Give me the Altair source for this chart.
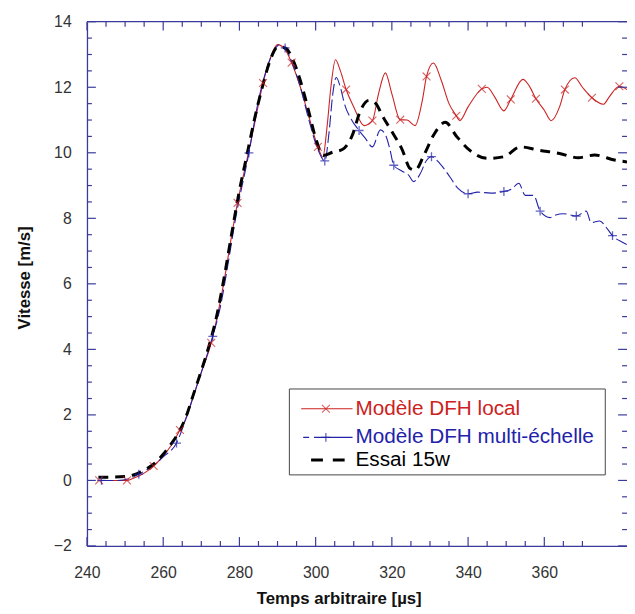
import altair as alt
import pandas as pd

# ---------------- data ----------------
red_x = [243.2, 246, 250.5, 252, 254, 256, 257.5, 260, 262, 264.4, 266, 268, 270, 272.6, 274, 276, 278, 279.5,
         282, 284, 286.2, 288, 290, 292, 293.7, 296, 298, 300.6, 301.9, 303, 304, 305.2, 306.5, 308, 310, 312.7,
         314.9, 316.5, 318.3, 320, 322.2, 324, 326.1, 328, 329.1, 330.9, 333, 335, 336.9, 337.8, 340, 343.6,
         345, 347, 349.4, 351.2, 354.4, 356, 357.8, 360, 361.8, 364, 365.4, 368, 370, 372.5, 375.5, 377,
         379.7, 381.7]
red_y = [0, 0, 0, 0.06, 0.16, 0.3, 0.44, 0.75, 1.05, 1.54, 1.9, 2.6, 3.3, 4.2, 4.9, 6.1, 7.5, 8.47,
         9.8, 10.9, 12.13, 12.85, 13.3, 13.15, 12.75, 12.0, 11.2, 10.18, 9.87, 10.8, 12.0, 12.84, 12.5, 11.93, 11.4, 10.83,
         10.98, 11.8, 12.44, 11.8, 11.01, 11.0, 10.83, 11.6, 12.33, 12.74, 12.2, 11.5, 11.13, 10.98, 11.4, 11.95,
         12.0, 11.7, 11.28, 11.63, 12.24, 12.05, 11.65, 11.3, 10.98, 11.4, 11.93, 12.29, 12.0, 11.68, 11.48, 11.7,
         12.03, 11.93]
red_mark_x = [243.2, 250.5, 257.5, 264.4, 272.6, 279.5, 286.2, 293.7, 300.6, 308, 314.9, 322.2, 329.1, 336.9,
              343.6, 351.2, 357.8, 365.4, 372.5, 379.7]
red_mark_y = [0, 0, 0.44, 1.54, 4.2, 8.47, 12.13, 12.75, 10.18, 11.93, 10.98, 11.01, 12.33, 11.13,
              11.95, 11.63, 11.65, 11.93, 11.68, 12.03]

blue_x = [243.8, 248, 251, 253.6, 256, 258, 260, 263.5, 266, 268, 270, 273, 275, 277, 279, 282.5, 285, 287,
          289, 290.5, 292, 294, 296, 298, 300.6, 302.4, 303.5, 304.5, 305.4, 306.5, 307.6, 309.3, 311.4, 313,
          314.9, 317, 318.5, 319.5, 320.5, 322.5, 324.4, 325.7, 327.4, 329, 330.4, 332.6, 335.2, 337.3, 340,
          342.5, 346, 349.4, 351.5, 353.3, 355, 357.2, 358.9, 361.5, 363, 365, 368.4, 371, 372.3, 374.5, 376.6,
          377.9, 380.5, 381.7]
blue_y = [0, 0, 0.05, 0.19, 0.35, 0.5, 0.72, 1.14, 1.9, 2.6, 3.3, 4.4, 5.3, 6.6, 8.0, 10.0, 11.6, 12.5,
          13.1, 13.3, 13.2, 12.7, 12.0, 11.1, 10.1, 9.75, 10.6, 11.8, 12.3, 12.0, 11.48, 11.03, 10.68, 10.45,
          10.18, 10.7, 10.5, 10.1, 9.62, 9.45, 9.32, 9.12, 9.35, 9.75, 9.88, 9.67, 9.27, 8.92, 8.75,
          8.8, 8.77, 8.82, 8.9, 9.07, 8.7, 8.7, 8.22, 8.02, 8.1, 8.14, 8.07, 8.22, 7.87, 7.92, 7.67,
          7.47, 7.27, 7.2]
blue_mark_x = [243.8, 253.6, 263.5, 273, 282.5, 292, 302.4, 311.4, 320.5, 330.4, 340, 349.4, 358.9, 368.4, 377.9]
blue_mark_y = [0, 0.19, 1.14, 4.4, 10.0, 13.2, 9.75, 10.68, 9.62, 9.88, 8.75, 8.82, 8.22, 8.07, 7.47]

black_x = [243, 246, 250, 253, 256, 258, 260, 262, 264, 266, 268, 270, 272, 274, 276, 278, 280, 282, 284,
           286, 288, 290, 292, 294, 296, 298, 300, 302, 304.5, 307, 309.5, 311.8, 314, 315.8, 317.5, 320,
           322.7, 324.8, 326.1, 328.5, 331, 334, 337, 340.4, 345.1, 349.4, 353.7, 358.5, 364, 368.9, 373.2,
           378.4, 381.7]
black_y = [0.1, 0.1, 0.12, 0.2, 0.38, 0.55, 0.8, 1.1, 1.45, 1.95, 2.65, 3.35, 4.1, 5.0, 6.2, 7.55, 8.85, 9.95, 11.05,
           12.0, 12.8, 13.22, 13.2, 12.85, 12.2, 11.35, 10.45, 9.92, 10.02, 10.1, 10.5, 11.3, 11.6, 11.5, 11.13, 10.65,
           10.1, 9.52, 9.47, 9.95, 10.55, 10.93, 10.5, 10.08, 9.83, 9.88, 10.18, 10.08, 9.98, 9.85, 9.93,
           9.78, 9.72]

series_names = ["Modèle DFH local", "Modèle DFH multi-échelle", "Essai 15w"]

x_label_values = [240, 260, 280, 300, 320, 340, 360]
x_major_ticks = [240, 260, 280, 300, 320, 340, 360]
x_minor_ticks = [245, 250, 255, 265, 270, 275, 285, 290, 295, 305, 310, 315, 325, 330, 335, 345, 350, 355, 365, 370]
y_major_ticks = [-2, 0, 2, 4, 6, 8, 10, 12, 14]
y_minor_ticks = [-1.5, -1, -0.5, 0.5, 1, 1.5, 2.5, 3, 3.5, 4.5, 5, 5.5, 6.5, 7, 7.5, 8.5, 9, 9.5,
                 10.5, 11, 11.5, 12.5, 13, 13.5]

# ---------------- styling ----------------
W, H = 547, 531
XMIN, XMAX = 240, 381.7
AXIS_COLOR = "#3a3a9c"
RED = "#cc2222"
BLUE = "#2222aa"
BLACK = "#000000"
FONT = "Liberation Sans"
X_SHAPE = "M-1,-1L1,1M-1,1L1,-1"
PLUS_SHAPE = "M-1,0L1,0M0,-1L0,1"
MAJ, MIN = 9, 5

xs = alt.Scale(domain=[XMIN, XMAX], nice=False, zero=False)
ys = alt.Scale(domain=[-2, 14], nice=False, zero=False)

red_df = pd.DataFrame({"x": red_x, "y": red_y})
red_m = pd.DataFrame({"x": red_mark_x, "y": red_mark_y})
blue_df = pd.DataFrame({"x": blue_x, "y": blue_y})
blue_m = pd.DataFrame({"x": blue_mark_x, "y": blue_mark_y})
black_df = pd.DataFrame({"x": black_x, "y": black_y})
one = pd.DataFrame({"k": [0]})

x_axis = alt.Axis(values=x_label_values, title="Temps arbitraire [µs]", ticks=False, grid=False,
                  labelPadding=19, titleY=58, titleX=255, titleBaseline="alphabetic", titleAlign="center",
                  labelFlush=False)
y_axis = alt.Axis(values=y_major_ticks, title="Vitesse [m/s]", ticks=False, grid=False,
                  labelPadding=16, titleX=-63, titleY=259, titleBaseline="middle", titleAlign="center",
                  titleAngle=270, labelFlush=False)

red_line = alt.Chart(red_df).mark_line(color=RED, strokeWidth=1.1, interpolate="monotone").encode(
    x=alt.X("x:Q", scale=xs, axis=x_axis), y=alt.Y("y:Q", scale=ys, axis=y_axis), order="x:Q")
red_pts = alt.Chart(red_m).mark_point(shape=X_SHAPE, filled=False, size=64, strokeWidth=1.1, color=RED).encode(
    x=alt.X("x:Q", scale=xs), y=alt.Y("y:Q", scale=ys))
blue_line = alt.Chart(blue_df).mark_line(color=BLUE, strokeWidth=1.1, strokeDash=[12, 4],
                                         interpolate="monotone").encode(
    x=alt.X("x:Q", scale=xs), y=alt.Y("y:Q", scale=ys), order="x:Q")
blue_pts = alt.Chart(blue_m).mark_point(shape=PLUS_SHAPE, filled=False, size=81, strokeWidth=1.3, color=BLUE).encode(
    x=alt.X("x:Q", scale=xs), y=alt.Y("y:Q", scale=ys))
black_line = alt.Chart(black_df).mark_line(color=BLACK, strokeWidth=3, strokeDash=[10, 7],
                                           interpolate="monotone").encode(
    x=alt.X("x:Q", scale=xs), y=alt.Y("y:Q", scale=ys), order="x:Q")

# inward ticks on all four sides
def xticks(vals, y0, y1):
    return alt.Chart(pd.DataFrame({"x": vals})).mark_rule(color=AXIS_COLOR, strokeWidth=1.2).encode(
        x=alt.X("x:Q", scale=xs), y=alt.value(y0), y2=alt.value(y1))

def yticks(vals, x0, x1):
    return alt.Chart(pd.DataFrame({"y": vals})).mark_rule(color=AXIS_COLOR, strokeWidth=1.2).encode(
        y=alt.Y("y:Q", scale=ys), x=alt.value(x0), x2=alt.value(x1))

tick_layers = [
    xticks(x_major_ticks, H, H - MAJ), xticks(x_minor_ticks, H, H - MIN),
    xticks(x_major_ticks, 0, MAJ), xticks(x_minor_ticks, 0, MIN),
    yticks(y_major_ticks, 0, MAJ), yticks(y_minor_ticks, 0, MIN),
    yticks(y_major_ticks, W - MAJ, W), yticks(y_minor_ticks, W - MIN, W),
]
top_line = alt.Chart(one).mark_rule(color=AXIS_COLOR, strokeWidth=1.3).encode(
    x=alt.value(0), x2=alt.value(W), y=alt.value(0))

# legend
LX0, LX1, LY0, LY1 = 205, 525, 372, 459
R1, R2, R3 = 392, 421, 444
TX = 272
leg_box = alt.Chart(one).mark_rect(fill="white", stroke="#444444", strokeWidth=1).encode(
    x=alt.value(LX0), x2=alt.value(LX1), y=alt.value(LY0), y2=alt.value(LY1))
leg_red = alt.Chart(one).mark_rule(color=RED, strokeWidth=1.1).encode(
    x=alt.value(217), x2=alt.value(269), y=alt.value(R1))
leg_red_m = alt.Chart(one).mark_point(shape=X_SHAPE, filled=False, size=64, strokeWidth=1.1, color=RED).encode(
    x=alt.value(242), y=alt.value(R1))
leg_blue = alt.Chart(one).mark_rule(color=BLUE, strokeWidth=1.1, strokeDash=[6, 5, 60, 0]).encode(
    x=alt.value(219), x2=alt.value(269), y=alt.value(R2))
leg_blue_m = alt.Chart(one).mark_point(shape=PLUS_SHAPE, filled=False, size=81, strokeWidth=1.3, color=BLUE).encode(
    x=alt.value(242), y=alt.value(R2))
leg_black = alt.Chart(one).mark_rule(color=BLACK, strokeWidth=3, strokeDash=[12, 10]).encode(
    x=alt.value(227), x2=alt.value(262), y=alt.value(R3))

def leg_text(txt, y, color):
    return alt.Chart(one).mark_text(align="left", baseline="middle", font=FONT, fontSize=21, color=color).encode(
        x=alt.value(TX), y=alt.value(y), text=alt.value(txt))

legend_layers = [leg_box, leg_red, leg_red_m, leg_blue, leg_blue_m, leg_black,
                 leg_text(series_names[0], R1, RED), leg_text(series_names[1], R2, BLUE),
                 leg_text(series_names[2], R3, BLACK)]

chart = alt.layer(
    red_line, blue_line, black_line, red_pts, blue_pts, top_line, *tick_layers, *legend_layers
).properties(
    width=W, height=H,
    autosize=alt.AutoSizeParams(type="none"),
    padding={"left": 80, "top": 10, "right": 0, "bottom": 64},
    background="white",
).configure_view(stroke=None).configure_axis(
    labelFont=FONT, labelFontSize=16, labelColor="#333333",
    titleFont=FONT, titleFontSize=17, titleFontWeight="bold", titleColor="#111111",
    domainColor=AXIS_COLOR, domainWidth=1.3,
)

chart.save("out.html", embed_options={"renderer": "svg", "actions": False})
